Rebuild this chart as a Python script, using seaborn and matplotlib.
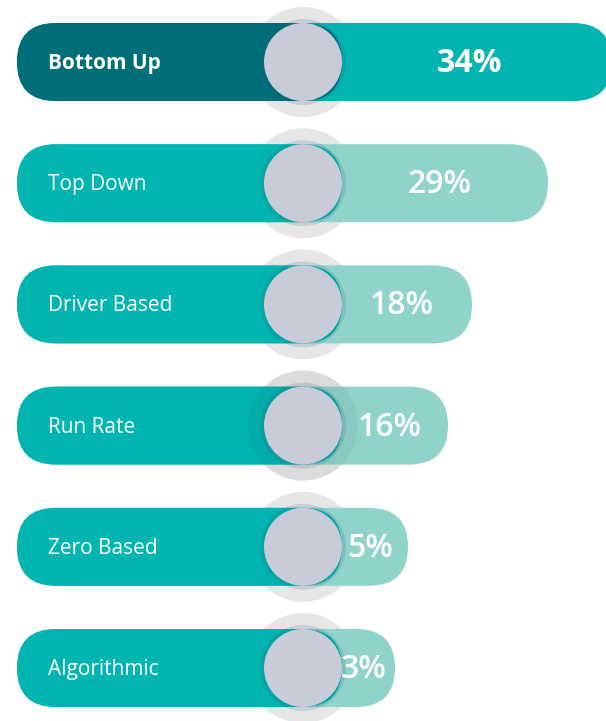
import pandas as pd
import matplotlib
matplotlib.use("Agg")
import matplotlib.pyplot as plt
import seaborn as sns
from matplotlib.patches import FancyBboxPatch, Circle

# data
methods = ["Bottom Up", "Top Down", "Driver Based", "Run Rate", "Zero Based", "Algorithmic"]
shares = [34, 29, 18, 16, 5, 3]
# visible bar length (px from the left edge of the bars), not proportional to the share
bar_len = [595, 531, 455, 431, 391, 378]

ROW = 121.2        # row spacing, px
TOP = 62           # centre of first row, px
LEFT = 17          # left edge of bars
KNOB_X = 286       # knob centre, relative to LEFT
R = 39             # half bar height / knob radius

df = pd.DataFrame({"method": methods, "share": shares, "length": bar_len})
df["ypos"] = TOP + ROW * df.index
df["split"] = KNOB_X + R

light = ["#00B4B0"] + ["#8FD3CB"] * 5
dark = ["#006E78"] + ["#00B4B0"] * 5

sns.set_theme(style="white")
plt.rcParams["font.family"] = ["Open Sans", "DejaVu Sans"]

fig = plt.figure(figsize=(6.06, 7.21), dpi=100)
ax = fig.add_axes([0, 0, 1, 1])

# grey halos behind each knob
for y in df["ypos"]:
    ax.add_patch(Circle((KNOB_X, y), 55, color="#E6E6E6", zorder=0, lw=0))

sns.barplot(data=df, x="length", y="ypos", hue="method", palette=light,
            orient="h", native_scale=True, width=2 * R / ROW, legend=False,
            saturation=1, ax=ax, zorder=1)
sns.barplot(data=df, x="split", y="ypos", hue="method", palette=dark,
            orient="h", native_scale=True, width=2 * R / ROW, legend=False,
            saturation=1, ax=ax, zorder=2)

# turn the plain bars into pills
for p in list(ax.patches):
    if isinstance(p, Circle):
        continue
    x, y, w, h = p.get_x(), p.get_y(), p.get_width(), p.get_height()
    if w <= 0:
        p.remove()
        continue
    pill = FancyBboxPatch((x, y), w, h, boxstyle=f"round,pad=0,rounding_size={h / 2}",
                          facecolor=p.get_facecolor(), edgecolor="none",
                          zorder=p.get_zorder())
    p.remove()
    ax.add_patch(pill)

for i, row in df.iterrows():
    y = row["ypos"]
    if i == 3:
        # this one halo sits on top of the bar in the original
        ax.add_patch(Circle((KNOB_X, y), 55, color="#303030", alpha=0.06, zorder=3, lw=0))
    ax.add_patch(Circle((KNOB_X, y), R + 4, color="#1F5A78", alpha=0.16, zorder=4, lw=0))
    ax.add_patch(Circle((KNOB_X, y), R, color="#C8CCD8", zorder=5, lw=0))
    bold = i == 0
    ax.text(31, y + 1.5, row["method"], color="white", fontsize=15,
            fontweight="bold" if bold else "normal", va="center", ha="left", zorder=6)
    end = min(row["length"], 589)
    ax.text((KNOB_X + R + end) / 2 - 5, y + 1.5, f"{row['share']}%", color="white",
            fontsize=23, fontweight="bold" if bold else "semibold",
            va="center", ha="center", zorder=6)

ax.set_xlim(-LEFT, 606 - LEFT)
ax.set_ylim(721, 0)
ax.axis("off")

fig.savefig("out.png", dpi=100)
